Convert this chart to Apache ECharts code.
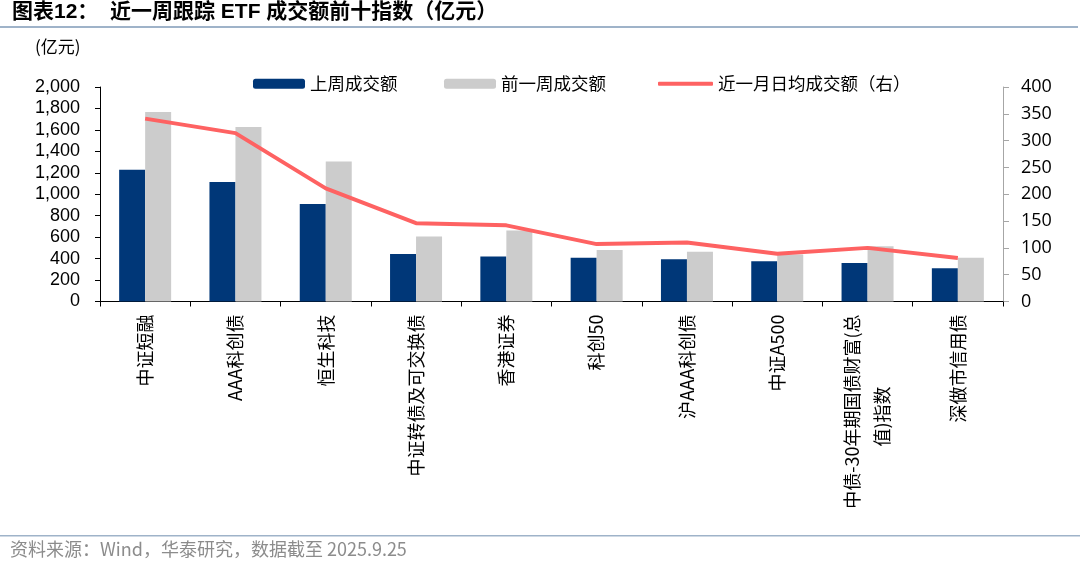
<!DOCTYPE html>
<html>
<head>
<meta charset="utf-8">
<script src="https://cdn.jsdelivr.net/npm/echarts@6/dist/echarts.min.js"></script>
<style>
html,body{margin:0;padding:0;background:#fff;}
#c{width:1080px;height:569px;}
</style>
</head>
<body>
<div id="c"></div>
<script>
var categories = ['中证短融','AAA科创债','恒生科技','中证转债及可交换债','香港证券','科创50','沪AAA科创债','中证A500','中债-30年期国债财富(总\n值)指数　　　　','深做市信用债'];
var lastWeek = [1228, 1115, 910, 444, 420, 407, 394, 376, 360, 310];
var prevWeek = [1768, 1628, 1305, 606, 662, 481, 463, 438, 516, 409];
var monthAvg = [341, 314, 211, 146, 142, 107, 110, 89, 100, 81];
var leftTicks = [0, 2000, 200];
var rightTicks = [0, 400, 50];

var cjk = '"Noto Sans CJK SC", "Liberation Sans", sans-serif';
var chart = echarts.init(document.getElementById('c'));
chart.setOption({
  animation: false,
  backgroundColor: '#fff',
  graphic: [
    {type:'text', left: 12, top: 2, style:{text:'图表12：  近一周跟踪 ETF 成交额前十指数（亿元）', font:'bold 21px "Liberation Sans", "Noto Sans CJK SC", sans-serif', fill:'#000'}},
    {type:'rect', shape:{x:0, y:26, width:1078, height:2}, style:{fill:'#9fb3c9'}},
    {type:'text', left: 35, top: 38, style:{text:'(亿元)', font:'17px ' + cjk, fill:'#000'}},
    {type:'rect', shape:{x:0, y:535, width:1080, height:1.5}, style:{fill:'#9fb3c9'}},
    {type:'text', left: 10, top: 540, style:{text:'资料来源：Wind，华泰研究，数据截至 2025.9.25', font:'18px ' + cjk, fill:'#8c8c8c'}}
  ],
  legend: [
    {left: 248, top: 70, itemWidth: 52, itemHeight: 10, itemGap: 8, data:['上周成交额'], textStyle:{fontSize:17.5, fontFamily: cjk, color:'#000'}},
    {left: 439, top: 70, itemWidth: 52, itemHeight: 10, itemGap: 8, data:['前一周成交额'], textStyle:{fontSize:17.5, fontFamily: cjk, color:'#000'}},
    {left: 653, top: 70, itemWidth: 55, itemHeight: 4, itemGap: 8, data:[{name:'近一月日均成交额（右）', icon:'roundRect'}], textStyle:{fontSize:17.5, fontFamily: cjk, color:'#000'}}
  ],
  grid: {left: 100, right: 77, top: 87, bottom: 267.5, containLabel: false},
  xAxis: {
    type: 'category',
    data: categories,
    boundaryGap: true,
    axisLine: {show: true, lineStyle: {color: '#000', width: 1}},
    axisTick: {show: true, length: 5, lineStyle: {color: '#000'}},
    axisLabel: {rotate: 90, margin: 13, interval: 0, fontSize: 18, fontFamily: cjk, color: '#000', lineHeight: 30}
  },
  yAxis: [
    {
      type: 'value', min: leftTicks[0], max: leftTicks[1], interval: leftTicks[2],
      axisLine: {show: true, lineStyle: {color: '#000'}},
      axisTick: {show: true, length: 5, lineStyle: {color: '#000'}},
      splitLine: {show: false},
      axisLabel: {fontSize: 18, fontFamily: '"Liberation Sans", sans-serif', color: '#000', margin: 20,
        formatter: function(v){ return v.toLocaleString('en-US'); }}
    },
    {
      type: 'value', min: rightTicks[0], max: rightTicks[1], interval: rightTicks[2],
      position: 'right',
      axisLine: {show: true, lineStyle: {color: '#a6a6a6'}},
      axisTick: {show: true, length: 6, lineStyle: {color: '#a6a6a6'}},
      splitLine: {show: false},
      axisLabel: {fontSize: 18, fontFamily: '"Open Sans", "Liberation Sans", sans-serif', color: '#000', margin: 18}
    }
  ],
  series: [
    {name: '上周成交额', type: 'bar', data: lastWeek, barWidth: 26, barGap: '0%', itemStyle: {color: '#003778'}},
    {name: '前一周成交额', type: 'bar', data: prevWeek, barWidth: 26, barGap: '0%', itemStyle: {color: '#cccccc'}},
    {name: '近一月日均成交额（右）', type: 'line', yAxisIndex: 1, data: monthAvg, symbol: 'none', smooth: false,
      lineStyle: {color: '#fe6262', width: 4}, itemStyle: {color: '#fe6262'}}
  ]
});
</script>
</body>
</html>
